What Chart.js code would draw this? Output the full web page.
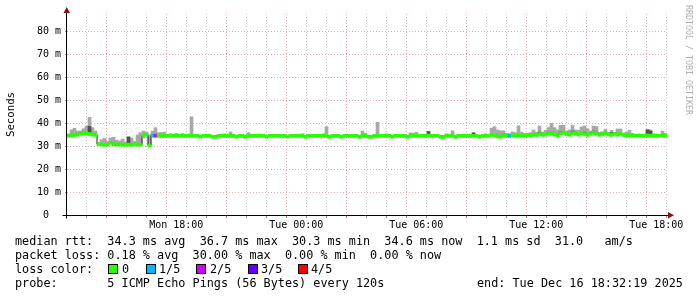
<!DOCTYPE html>
<html><head><meta charset="utf-8">
<script src="https://cdn.jsdelivr.net/npm/chart.js@4.4.0/dist/chart.umd.min.js"></script>
<style>
html,body{margin:0;padding:0;background:#fff;}
#wrap{position:relative;width:697px;height:297px;overflow:hidden;background:#fff;}
canvas{position:absolute;left:0;top:0;}
.t{position:absolute;font-family:"DejaVu Sans Mono",monospace;font-size:11.8px;line-height:14px;white-space:pre;color:#000;}
.box{position:absolute;top:264px;width:8px;height:8px;border:1px solid #000;}
#ylab{position:absolute;left:4px;top:92px;font-family:"DejaVu Sans Mono",monospace;font-size:10.7px;writing-mode:vertical-rl;transform:rotate(180deg);color:#000;}
#wm{position:absolute;left:684px;top:5px;font-family:"DejaVu Sans Mono",monospace;font-size:8.3px;writing-mode:vertical-rl;color:#b0b0b0;}
</style></head><body>
<div id="wrap">
<canvas id="c" width="697" height="297"></canvas>
<div id="ylab">Seconds</div>
<div id="wm">RRDTOOL / TOBI OETIKER</div>
<div class="t" style="left:15px;top:234px">median rtt:  34.3 ms avg  36.7 ms max  30.3 ms min  34.6 ms now  1.1 ms sd  31.0   am/s</div>
<div class="t" style="left:15px;top:248px">packet loss: 0.18 % avg  30.00 % max  0.00 % min  0.00 % now</div>
<div class="t" style="left:15px;top:262px">loss color:</div>
<div class="box" style="left:108px;background:#26ff00"></div><div class="t" style="left:122px;top:262px">0</div>
<div class="box" style="left:146px;background:#00b8ff"></div><div class="t" style="left:159px;top:262px">1/5</div>
<div class="box" style="left:196px;background:#ce00ff"></div><div class="t" style="left:210px;top:262px">2/5</div>
<div class="box" style="left:248px;background:#5e00ff"></div><div class="t" style="left:261px;top:262px">3/5</div>
<div class="box" style="left:298px;background:#ff0000"></div><div class="t" style="left:311px;top:262px">4/5</div>
<div class="t" style="left:15px;top:276px">probe:       5 ICMP Echo Pings (56 Bytes) every 120s</div>
<div class="t" style="left:477px;top:276px">end: Tue Dec 16 18:32:19 2025</div>
</div>
<script>
// ---- data (one sample every 9 minutes, start Mon 12:32:19) ----
const stepMin = 9;
const startClockMin = 12 * 60 + 32 + 19 / 60;
const spanMin = 1800;

const medianRtt = [
34.5,34.6,34.8,35.0,35.3,35.6,35.5,35.2,35.0,34.8,
30.8,30.6,30.5,30.6,31.4,30.8,30.6,30.7,30.5,30.6,
30.6,30.5,30.8,30.6,30.5,34.3,35.0,30.2,34.5,34.5,
34.4,34.4,34.4,34.4,34.4,34.4,34.4,34.4,34.4,34.4,
34.4,34.4,34.4,34.4,34.0,34.4,34.4,34.4,34.0,34.0,
34.4,34.4,34.4,34.4,34.4,34.4,34.0,34.4,34.4,34.0,
34.4,34.4,34.4,34.4,34.4,34.4,34.0,34.4,34.4,34.4,
34.4,34.4,34.4,34.0,34.4,34.4,34.4,34.4,34.4,34.0,
34.4,34.4,34.4,34.4,34.4,34.4,34.4,34.0,34.4,34.4,
34.4,34.0,34.4,34.4,34.4,34.4,34.4,34.0,34.4,34.4,
34.0,34.0,34.4,34.4,34.4,34.4,34.4,34.4,34.0,34.4,
34.4,34.4,34.4,34.0,34.4,34.4,34.4,34.4,34.4,34.4,
34.6,34.4,34.4,34.4,34.0,34.0,34.4,34.4,34.4,34.0,
34.4,34.4,34.4,34.4,34.4,34.4,34.4,34.0,34.4,34.4,
34.4,34.8,34.6,34.2,34.0,34.6,34.5,34.4,34.7,34.4,
34.6,34.5,34.4,34.7,34.6,35.0,34.8,35.2,34.8,35.0,
35.4,35.6,35.0,34.7,35.5,35.8,35.2,34.9,35.6,35.3,
35.0,35.6,35.2,34.8,35.4,35.7,35.3,34.9,35.2,35.5,
35.0,34.8,35.3,35.0,35.4,34.8,34.6,34.5,34.4,34.5,
34.5,34.4,34.5,34.6,34.5,34.4,34.5,34.5,34.4,34.4
];

const smokeMax = [
35.2,37.0,37.7,36.5,36.6,37.5,38.7,42.5,38.0,36.5,
31.5,32.8,33.3,32.0,33.5,33.8,32.5,32.2,33.0,31.8,
32.0,33.5,32.0,34.8,35.8,36.5,36.0,34.8,36.5,38.0,
35.8,35.9,36.0,35.0,35.3,35.0,35.5,35.0,35.4,35.0,
35.2,42.7,35.0,35.0,34.6,35.0,35.0,35.0,34.6,34.6,
35.0,35.0,35.3,35.0,36.1,35.0,34.6,35.0,35.0,34.6,
35.8,35.0,35.0,35.0,35.0,35.0,34.6,35.0,35.0,35.0,
35.0,35.0,35.0,34.6,35.0,35.0,35.0,35.0,35.3,34.6,
35.0,35.0,35.0,35.0,35.0,35.3,38.4,34.6,35.0,35.0,
35.0,34.6,35.0,35.0,35.0,35.0,35.0,34.6,36.5,35.5,
34.6,34.6,35.0,40.3,35.0,35.0,35.3,35.0,34.6,35.0,
35.0,35.0,35.0,34.6,35.7,35.6,36.0,35.0,35.0,35.0,
36.3,35.0,35.0,35.0,34.6,34.6,35.3,35.0,36.6,34.6,
35.0,35.0,35.0,35.0,35.0,35.7,35.0,34.6,35.0,35.3,
35.0,37.8,38.4,37.0,36.6,36.6,35.5,35.3,36.1,35.8,
38.8,36.0,35.5,35.5,35.8,37.0,36.0,38.7,36.0,36.8,
38.0,39.9,38.0,37.0,39.0,39.0,36.5,37.0,39.0,37.0,
36.8,38.3,38.7,37.5,36.5,38.7,38.5,36.0,36.2,37.2,
36.0,36.8,36.0,37.4,37.4,35.6,36.0,36.8,35.5,35.0,
35.2,35.0,35.0,37.2,37.0,35.3,35.0,35.0,36.5,35.5
];

// darker smoke core (sample index, top value)
const coreIdx = [7, 20, 120, 135, 157, 160, 164, 168, 172, 175, 176, 181, 193, 194];
const coreTop = [38.5, 34.0, 36.3, 35.7, 36.0, 36.0, 36.2, 36.5, 36.0, 36.5, 36.0, 35.8, 37.0, 36.5];

// samples with packet loss (index, lost pings out of 5)
const lossIdx = [28, 29, 147];
const lossLvl = [1, 2, 1];
const lossColors = ['#26ff00', '#00b8ff', '#ce00ff', '#5e00ff', '#ff0000'];

// axis ticks
const hourTicks = [];
for (let h = 13; h <= 42; h++) hourTicks.push(h);
const xTickHours = [18, 24, 30, 36, 42];
const xTickLabels = ['Mon 18:00', 'Tue 00:00', 'Tue 06:00', 'Tue 12:00', 'Tue 18:00'];
const yTicks = [0, 5, 10, 15, 20, 25, 30, 35, 40, 45, 50, 55, 60, 65, 70, 75, 80, 85];
const yMax = 87.4;

const majorCol = 'rgba(228,150,150,0.8)';
const minorCol = 'rgba(200,200,200,0.9)';

// ---- build library tables ----
const xs = medianRtt.map((_, i) => i * stepMin + stepMin / 2);
const lossOf = i => { const k = lossIdx.indexOf(i); return k < 0 ? 0 : lossLvl[k]; };
const smokeData = medianRtt.map((m, i) => ({ x: xs[i], y: [m, Math.max(m, smokeMax[i])] }));
const coreData = coreIdx.map((idx, k) => ({ x: xs[idx], y: [medianRtt[idx], coreTop[k]] }));
const lineData = medianRtt.map((m, i) => ({ x: xs[i], y: m }));
const greenData = medianRtt.map((m, i) => ({ x: xs[i], y: [m - 0.65, m + 0.65] }));
const greenColors = medianRtt.map((m, i) => lossColors[lossOf(i)]);
const hourPos = h => h * 60 - startClockMin;

const axisPlugin = {
  id: 'rrdaxes',
  afterDraw(chart) {
    const { ctx, chartArea: a } = chart;
    const ax = Math.round(a.left) - 0.5;
    const ay = Math.round(a.bottom) + 0.5;
    ctx.save();
    ctx.strokeStyle = '#000';
    ctx.lineWidth = 1;
    ctx.beginPath();
    ctx.moveTo(ax, ay + 3); ctx.lineTo(ax, a.top - 1);
    ctx.moveTo(ax - 4, ay); ctx.lineTo(a.right + 1, ay);
    ctx.stroke();
    ctx.fillStyle = '#8b1010';
    ctx.beginPath();
    ctx.moveTo(ax - 3, a.top - 1); ctx.lineTo(ax + 3.5, a.top - 1); ctx.lineTo(ax + 0.25, a.top - 7); ctx.closePath();
    ctx.fill();
    ctx.beginPath();
    ctx.moveTo(a.right + 1, ay - 3.5); ctx.lineTo(a.right + 1, ay + 3); ctx.lineTo(a.right + 7, ay - 0.25); ctx.closePath();
    ctx.fill();
    ctx.restore();
  }
};

new Chart(document.getElementById('c'), {
  type: 'bar',
  data: {
    datasets: [
      { type: 'bar', data: smokeData, backgroundColor: '#a8a8a8', grouped: false, barPercentage: 1, categoryPercentage: 1, borderWidth: 0, order: 4 },
      { type: 'bar', data: coreData, backgroundColor: '#505050', grouped: false, barPercentage: 1, categoryPercentage: 1, borderWidth: 0, order: 3 },
      { type: 'line', data: lineData, borderColor: '#202020', borderWidth: 1, stepped: 'middle', pointRadius: 0, fill: false, order: 2 },
      { type: 'bar', data: greenData, backgroundColor: greenColors, grouped: false, barPercentage: 1, categoryPercentage: 1, borderWidth: 0, order: 1 }
    ]
  },
  options: {
    responsive: false,
    animation: false,
    devicePixelRatio: 1,
    layout: { padding: { left: 0, right: 30, top: 14, bottom: 0 } },
    plugins: { legend: { display: false }, tooltip: { enabled: false } },
    scales: {
      x: {
        type: 'linear', min: 0, max: spanMin, offset: false,
        afterBuildTicks: s => { s.ticks = hourTicks.map(h => ({ value: hourPos(h) })); },
        afterFit: s => { s.height = 82; },
        ticks: {
          autoSkip: false, maxRotation: 0, padding: 1, color: '#000',
          font: { family: 'DejaVu Sans Mono', size: 10 },
          callback: (v) => { const h = Math.round((v + startClockMin) / 60); const k = xTickHours.indexOf(h); return k < 0 ? '' : xTickLabels[k]; }
        },
        grid: {
          color: c => { const h = Math.round(((c.tick ? c.tick.value : 0) + startClockMin) / 60); return h % 3 === 0 ? majorCol : minorCol; },
          tickColor: c => { const h = Math.round(((c.tick ? c.tick.value : 0) + startClockMin) / 60); return h % 3 === 0 ? '#c06060' : '#909090'; },
          tickLength: 3, lineWidth: 1
        },
        border: { display: false, dash: [1, 2] }
      },
      y: {
        min: 0, max: yMax,
        afterBuildTicks: s => { s.ticks = yTicks.map(v => ({ value: v })); },
        afterFit: s => { s.width = 67; },
        ticks: {
          padding: 4, color: '#000',
          font: { family: 'DejaVu Sans Mono', size: 10 },
          callback: v => (v % 10 === 0 ? (v === 0 ? '0  ' : v + ' m') : '')
        },
        grid: {
          color: c => ((c.tick ? c.tick.value : 0) % 10 === 0 ? majorCol : minorCol),
          tickColor: '#909090', tickLength: 2, lineWidth: 1
        },
        border: { display: false, dash: [1, 2] }
      }
    }
  },
  plugins: [axisPlugin]
});
</script>
</body></html>
